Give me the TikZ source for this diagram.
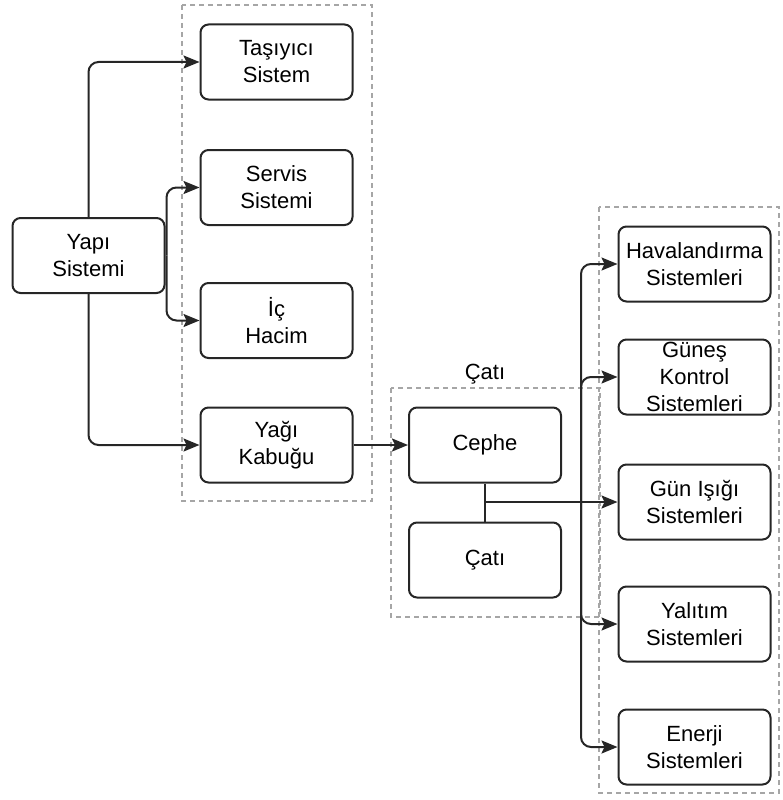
\documentclass[tikz,border=0pt]{standalone}
\usepackage{fontspec}
\setmainfont{Liberation Sans}
\usetikzlibrary{arrows.meta}

\tikzset{
  box/.style={draw=black!85, line width=2pt, rounded corners=8pt, minimum width=152pt, minimum height=75pt, align=center, inner sep=0pt, font=\fontsize{22}{27}\selectfont},
  group/.style={draw=black!35, line width=1.2pt, dash pattern=on 5pt off 4pt},
  link/.style={draw=black!85, line width=2pt, rounded corners=10pt, -{Stealth[length=16pt,width=13pt,inset=3pt]}}
}

\begin{document}
\begin{tikzpicture}[x=1pt,y=-1pt]
\useasboundingbox (0,0) rectangle (782,800);
% dashed groups
\draw[group] (182,5) rectangle (372,501);
\draw[group] (391,388) rectangle (600,617);
\draw[group] (599,207) rectangle (779,793);
\node[font=\fontsize{22}{27}\selectfont] (catilabel) at (485,374) {Çatı};

% left part
\node[box] (yapi) at (88.5,255.5) {Yapı\\Sistemi};
\node[box] (tasiyici) at (276.5,62) {Taşıyıcı\\Sistem};
\node[box] (servis) at (276.5,187.5) {Servis\\Sistemi};
\node[box] (ichacim) at (276.5,320.5) {İç\\Hacim};
\node[box] (yagi) at (276.5,445) {Yağı\\Kabuğu};

% middle part
\node[box] (cephe) at (485,445) {Cephe};
\node[box] (cati) at (485,560) {Çatı};

% right column
\foreach \n/\y/\t in {hava/264/{Havalandırma\\Sistemleri}, gunes/377/{Güneş\\Kontrol\\Sistemleri}, gunisigi/502/{Gün Işığı\\Sistemleri}, yalitim/624/{Yalıtım\\Sistemleri}, enerji/747/{Enerji\\Sistemleri}}
    \node[box] (\n) at (694.5,\y) {\t};

\draw[link] (yapi.north) |- (tasiyici.west);
\draw[link] (yapi.south) |- (yagi.west);
\draw[link] (yapi.east) ++(1,0) |- (servis.west);
\draw[link] (yapi.east) ++(1,0) |- (ichacim.west);
\draw[link] (yagi) -- (cephe);

\draw[draw=black!85, line width=2pt] (cephe.south) -- (cati.north);
\coordinate (split) at (cephe.south |- gunisigi.west);
\coordinate (trunk) at (581,502);
\draw[link] (split) -- (gunisigi.west);
\foreach \n in {hava,gunes,yalitim,enerji}
    \draw[link] (trunk) |- (\n.west);
\end{tikzpicture}
\end{document}
